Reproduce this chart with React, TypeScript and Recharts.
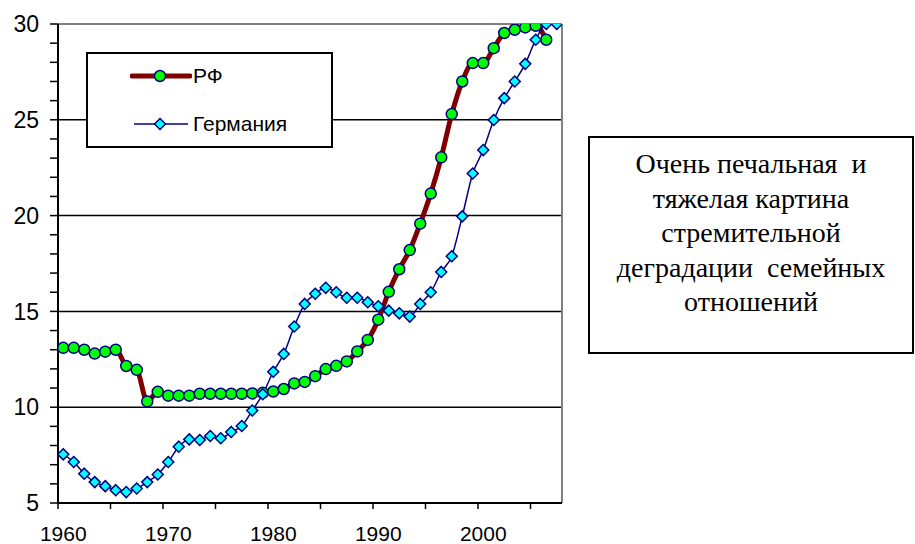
import React from "react";
import { LineChart, Line, XAxis, YAxis, ReferenceLine } from "recharts";

const YEARS = [
  1960, 1961, 1962, 1963, 1964, 1965, 1966, 1967, 1968, 1969,
  1970, 1971, 1972, 1973, 1974, 1975, 1976, 1977, 1978, 1979,
  1980, 1981, 1982, 1983, 1984, 1985, 1986, 1987, 1988, 1989,
  1990, 1991, 1992, 1993, 1994, 1995, 1996, 1997, 1998, 1999,
  2000, 2001, 2002, 2003, 2004, 2005, 2006, 2007,
];

const RF = [
  13.1, 13.1, 13.0, 12.8, 12.9, 13.0, 12.15, 11.95, 10.3, 10.8,
  10.6, 10.6, 10.6, 10.7, 10.7, 10.7, 10.7, 10.7, 10.72, 10.75,
  10.82, 10.95, 11.24, 11.32, 11.62, 11.99, 12.16, 12.39, 12.91, 13.51,
  14.57, 16.02, 17.2, 18.2, 19.58, 21.15, 23.04, 25.3, 27.0, 27.96,
  27.96, 28.74, 29.53, 29.7, 29.82, 29.91, 29.18, null,
];

const GERMANY = [
  7.54, 7.14, 6.53, 6.09, 5.88, 5.67, 5.57, 5.76, 6.09, 6.49,
  7.14, 7.94, 8.32, 8.29, 8.5, 8.38, 8.71, 9.02, 9.83, 10.68,
  11.85, 12.78, 14.21, 15.39, 15.92, 16.23, 16.0, 15.71, 15.71, 15.48,
  15.27, 15.04, 14.9, 14.73, 15.39, 16.0, 17.06, 17.88, 19.96, 22.2,
  23.42, 24.99, 26.13, 27.0, 27.92, 29.18, 30.0, 30.0,
];

// labelled years and tick marks between categories (every 5 years)
const X_LABELS = [1960, 1970, 1980, 1990, 2000];
const X_MARKS = [1959.5, 1964.5, 1969.5, 1974.5, 1979.5, 1984.5, 1989.5, 1994.5, 1999.5, 2004.5];
const Y_TICKS = [5, 6, 7, 8, 9, 10, 11, 12, 13, 14, 15, 16, 17, 18, 19, 20, 21, 22, 23, 24, 25, 26, 27, 28, 29, 30];
const GRID_VALUES = [10, 15, 20, 25];

const NOTE_LINES = [
  "Очень печальная  и",
  "тяжелая картина",
  "стремительной",
  "деградации  семейных",
  "отношений",
];

const data = YEARS.map((year, i) => ({ year, rf: RF[i], de: GERMANY[i] }));

const SANS = "'Liberation Sans', Arial, sans-serif";
const SERIF = "'Liberation Serif', 'Times New Roman', serif";

const RF_COLOR = "#800000";
const DE_COLOR = "#000080";

function XTick(props: any) {
  const { x, y, payload } = props;
  const v = payload.value;
  if (X_LABELS.includes(v)) {
    return (
      <text x={x} y={y + 38} textAnchor="middle" fontSize={21} fontFamily={SANS} fill="#000">
        {v}
      </text>
    );
  }
  return <line x1={x} y1={y} x2={x} y2={y + 6} stroke="#000" strokeWidth={1.5} />;
}

function Diamond(props: any) {
  const { cx, cy, index } = props;
  if (cx == null || cy == null) return null;
  const s = 5.5;
  return (
    <path
      key={`d-${index}`}
      d={`M${cx},${cy - s}L${cx + s},${cy}L${cx},${cy + s}L${cx - s},${cy}Z`}
      fill="#00ffff"
      stroke={DE_COLOR}
      strokeWidth={1.5}
    />
  );
}

export default function App() {
  return (
    <div style={{ position: "absolute", left: 0, top: 0, width: 915, height: 544, background: "#fff" }}>
      <LineChart
        width={915}
        height={544}
        data={data}
        margin={{ top: 24, right: 353, bottom: 0, left: 0 }}
      >
        <XAxis
          dataKey="year"
          type="number"
          domain={[1959.5, 2007.5]}
          ticks={[...X_MARKS, ...X_LABELS]}
          interval={0}
          tick={<XTick />}
          tickLine={false}
          tickSize={0}
          tickMargin={0}
          height={41}
          axisLine={{ stroke: "#000", strokeWidth: 2 }}
          allowDataOverflow
        />
        <YAxis
          type="number"
          domain={[5, 30]}
          ticks={Y_TICKS}
          interval={0}
          width={58}
          tickSize={8}
          tickMargin={11}
          tickFormatter={(v) => (v % 5 === 0 ? String(v) : "")}
          tick={{ fontSize: 23, fontFamily: SANS, fill: "#000" }}
          tickLine={{ stroke: "#000", strokeWidth: 1.5 }}
          axisLine={{ stroke: "#000", strokeWidth: 2 }}
          allowDataOverflow
        />
        {GRID_VALUES.map((v) => (
          <ReferenceLine key={v} y={v} stroke="#000" strokeWidth={1.5} />
        ))}
        <ReferenceLine y={30} stroke="#808080" strokeWidth={2} />
        <ReferenceLine x={2007.5} stroke="#808080" strokeWidth={2} />
        <Line
          dataKey="rf"
          type="monotone"
          stroke={RF_COLOR}
          strokeWidth={5}
          dot={{ r: 5.5, fill: "#00ff00", stroke: DE_COLOR, strokeWidth: 1.5 }}
          isAnimationActive={false}
        />
        <Line
          dataKey="de"
          type="monotone"
          stroke={DE_COLOR}
          strokeWidth={1.5}
          dot={<Diamond />}
          isAnimationActive={false}
        />
      </LineChart>

      {/* legend box */}
      <div
        style={{
          position: "absolute",
          left: 86,
          top: 52,
          width: 247,
          height: 96,
          boxSizing: "border-box",
          border: "2px solid #000",
          background: "#fff",
          fontFamily: SANS,
          fontSize: 21,
        }}
      >
        <div style={{ position: "absolute", left: 42, top: 10, display: "flex", alignItems: "center" }}>
          <svg width={62} height={24}>
            <line x1={2} y1={12} x2={60} y2={12} stroke={RF_COLOR} strokeWidth={5} strokeLinecap="round" />
            <circle cx={30} cy={12} r={5.5} fill="#00ff00" stroke={DE_COLOR} strokeWidth={1.5} />
          </svg>
          <span style={{ marginLeft: 1 }}>РФ</span>
        </div>
        <div style={{ position: "absolute", left: 42, top: 58, display: "flex", alignItems: "center" }}>
          <svg width={62} height={24}>
            <line x1={4} y1={12} x2={58} y2={12} stroke={DE_COLOR} strokeWidth={1.5} />
            <path d="M30,6.5L35.5,12L30,17.5L24.5,12Z" fill="#00ffff" stroke={DE_COLOR} strokeWidth={1.5} />
          </svg>
          <span style={{ marginLeft: 1 }}>Германия</span>
        </div>
      </div>

      {/* note box */}
      <div
        style={{
          position: "absolute",
          left: 588,
          top: 136,
          width: 326,
          height: 218,
          boxSizing: "border-box",
          border: "2px solid #000",
          background: "#fff",
          fontFamily: SERIF,
          fontSize: 28,
          lineHeight: "34.5px",
          textAlign: "center",
          paddingTop: 9,
          whiteSpace: "pre",
        }}
      >
        {NOTE_LINES.map((l) => (
          <div key={l}>{l}</div>
        ))}
      </div>
    </div>
  );
}
